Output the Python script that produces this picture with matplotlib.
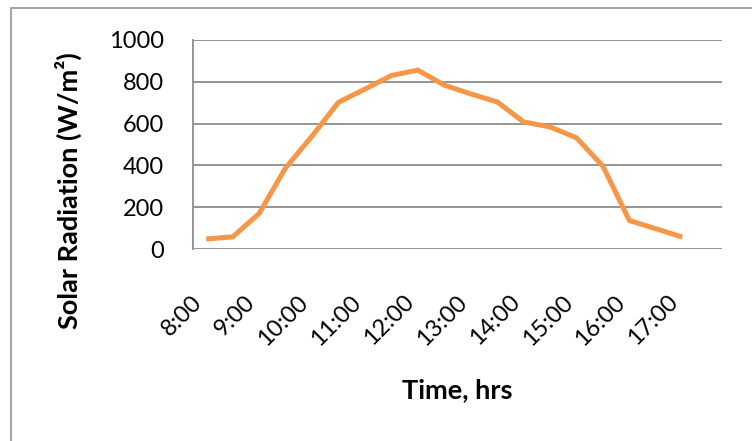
"""
Solar radiation over the day, half-hourly readings 8:00-17:00.
"""
import numpy as np
import matplotlib
matplotlib.use('Agg')
import matplotlib.pyplot as plt
from matplotlib.lines import Line2D

plt.rcParams['font.family'] = ['Lato', 'DejaVu Sans']

# Half-hourly readings (W/m^2)
TIMES = ['8:00', '8:30', '9:00', '9:30', '10:00', '10:30', '11:00', '11:30',
         '12:00', '12:30', '13:00', '13:30', '14:00', '14:30', '15:00',
         '15:30', '16:00', '16:30', '17:00']
RADIATION = [48, 58, 170, 388, 540, 702, 765, 830, 856, 784, 742, 704,
             608, 584, 532, 396, 136, 97, 57]
Y_TICKS = [0, 200, 400, 600, 800, 1000]

W, H = 752, 441
fig = plt.figure(figsize=(W/100, H/100), dpi=100)
fig.patch.set_facecolor('white')

# plot area in pixel terms
left, right, top, bottom = 193, 722, 40, 249
ax = fig.add_axes([left/W, 1 - bottom/H, (right-left)/W, (bottom-top)/H])

x = np.arange(len(TIMES))
ax.plot(x, RADIATION, color='#F79646', lw=3.6, solid_joinstyle='round',
        solid_capstyle='butt', zorder=3)

ax.set_xlim(-0.5, len(TIMES) + 0.5)
ax.set_ylim(0, 1000)
ax.set_yticks(Y_TICKS)
ax.set_yticklabels([str(v) for v in Y_TICKS], fontsize=17)
ax.set_xticks(x[::2])
ax.set_xticklabels(TIMES[::2], fontsize=17, rotation=45, ha='right')
ax.tick_params(axis='y', length=0, pad=21)
ax.tick_params(axis='x', length=0, pad=30.5)

ax.grid(True, axis='y', color='#8C8C8C', lw=1.3)
ax.set_axisbelow(True)
for s in ['top', 'right', 'bottom']:
    ax.spines[s].set_visible(False)
ax.spines['left'].set_color('#8C8C8C')
ax.spines['left'].set_linewidth(1.3)

ax.set_ylabel('Solar Radiation (W/m²)', fontsize=19.5, fontweight='bold')
ax.yaxis.set_label_coords(-0.236, 0.28)
ax.yaxis.label.set_verticalalignment('center')
ax.set_xlabel('Time, hrs', fontsize=19.5, fontweight='bold')
ax.xaxis.set_label_coords(0.5, -0.675)
ax.xaxis.label.set_verticalalignment('center')

# chart border (top and left edges)
fig.add_artist(Line2D([11/W, 11/W, 1.0], [0.0, 1 - 8/H, 1 - 8/H],
                      transform=fig.transFigure, color='#A6A6A6', lw=1.5))

plt.savefig('out.png', dpi=100)
